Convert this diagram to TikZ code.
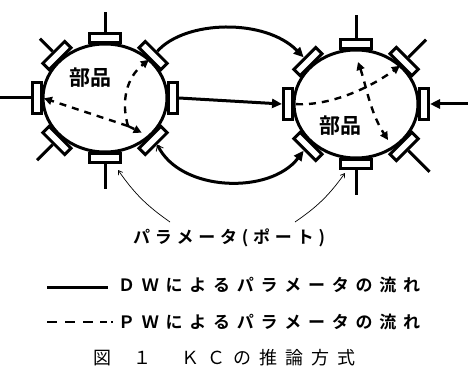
\documentclass[tikz,border=0pt]{standalone}
\usepackage{fontspec}
\newfontfamily\jp{Noto Sans CJK JP}
\IfFontExistsTF{Noto Sans CJK JP Bold}
  {\newfontfamily\jpb{Noto Sans CJK JP Bold}}
  {\newfontfamily\jpb{Noto Sans CJK JP}}
\usetikzlibrary{arrows.meta,calc}
\begin{document}
\begin{tikzpicture}[x=1pt,y=1pt,
  port/.style={draw, line width=3pt, minimum width=31pt, minimum height=9pt, inner sep=0pt, fill=white},
  dw/.style={line width=3pt},
  tri/.style={-{Triangle[length=10pt,width=9pt]}},
  pw/.style={line width=2.4pt, dash pattern=on 7pt off 6pt},
  pwa/.style={pw, -{Triangle[length=8pt,width=8pt]}},
  thinarrow/.style={line width=0.7pt, -{Straight Barb[length=4pt,width=5pt]}},
  lbl/.style={font=\jpb\fontsize{17pt}{17pt}\selectfont, inner sep=0pt},
]
\useasboundingbox (0,0) rectangle (468,370);

% ---------- centres ----------
\coordinate (LC) at (105,272);
\coordinate (RC) at (356,266);

% ---------- left part ----------
\draw[dw] (LC) ellipse [x radius=62pt, y radius=54pt];
\begin{scope}[shift={(LC)}]
  \foreach \a/\n in {90/L90,45/L45,0/L0,315/L315,270/L270,225/L225,180/L180,135/L135}
    \node[port, rotate=\a-90, anchor=south] (\n) at (\a:62 and 54) {};
\end{scope}
\draw[dw] (L90.north) -- ++(90:20);
\draw[dw] (L135.north) -- ++(135:18);
\draw[dw] (L180.north) -- ++(180:34);
\draw[dw] (L225.north) -- ++(225:22);
\draw[dw] (L270.north) -- ++(270:25);
\node[font=\jpb\fontsize{21pt}{21pt}\selectfont, inner sep=0pt] (LT) at (90,292) {部品};

% ---------- right part ----------
\draw[dw] (RC) ellipse [x radius=62pt, y radius=54pt];
\begin{scope}[shift={(RC)}]
  \foreach \a/\n in {90/R90,45/R45,0/R0,315/R315,270/R270,225/R225,180/R180,135/R135}
    \node[port, rotate=\a-90, anchor=south] (\n) at (\a:62 and 54) {};
\end{scope}
\draw[dw] (R90.north) -- ++(90:23);
\draw[dw] (R45.north) -- ++(45:25);
\draw[dw] (R315.north) -- ++(315:30);
\draw[dw] (R270.north) -- ++(270:25);
\node[font=\jpb\fontsize{21pt}{21pt}\selectfont, inner sep=0pt] (RT) at (340,244) {部品};

% ---------- DW connectors ----------
\draw[dw, tri] (L0.north) -- (R180.north);
\draw[dw, tri] (L45.north) .. controls (185,350) and (265,352) .. (R135.north);
\draw[dw, {Straight Barb[line width=0.8pt,length=5pt,width=8pt]}-{Triangle[length=10pt,width=9pt]}]
  (L315.north) .. controls (180,178) and (270,175) .. (R225.north);
\coordinate (ein) at (468,266);
\draw[dw, tri] (ein) -- (R0.north);

% ---------- PW flows (left) ----------
\coordinate (LB) at (128,244);
\draw[pwa, shorten >=1pt] (LB) -- (L180.south);
\draw[pwa] (LB) .. controls (121,268) and (126,292) .. (L45.south);
\draw[pwa, shorten >=8pt] (LB) -- (L315.south);

% ---------- PW flows (right) ----------
\coordinate (rtop) at (358,308);
\coordinate (rbot) at (388,230);
\draw[pwa, shorten <=2pt] (R180.south) .. controls (330,264) and (370,282) .. (R45.south);
\draw[pw, {Triangle[length=8pt,width=8pt]}-{Triangle[length=8pt,width=8pt]}]
  (rtop) .. controls (366,285) and (370,258) .. (rbot);

% ---------- port label ----------
\node[lbl] (lab) at (229,132) {\makebox[192pt][s]{パ\hfill ラ\hfill メ\hfill ー\hfill タ\hfill (\hfill ポ\hfill ー\hfill ト\hfill )}};
\coordinate (la1) at (170,148);
\coordinate (la2) at (295,148);
\draw[thinarrow] (la1) to[bend left=10] ($(L270.north west)+(-4,-6)$);
\draw[thinarrow] (la2) to[bend right=10] ($(R270.north east)+(6,-3)$);

% ---------- legend ----------
\coordinate (s1) at (47,83);
\coordinate (s2) at (108,83);
\draw[dw] (s1) -- (s2);
\node[lbl, anchor=west] (t1) at (118,84.5) {\makebox[302pt][s]{Ｄ\hfill Ｗ\hfill に\hfill よ\hfill る\hfill パ\hfill ラ\hfill メ\hfill ー\hfill タ\hfill の\hfill 流\hfill れ}};
\coordinate (d1) at (47,48);
\coordinate (d2) at (113,48);
\draw[line width=2.6pt, dash pattern=on 10pt off 8pt on 10pt off 8pt on 10pt off 7pt on 7pt off 4pt on 2pt] (d1) -- (d2);
\node[lbl, anchor=west] (t2) at (118,47.5) {\makebox[302pt][s]{Ｐ\hfill Ｗ\hfill に\hfill よ\hfill る\hfill パ\hfill ラ\hfill メ\hfill ー\hfill タ\hfill の\hfill 流\hfill れ}};

% ---------- caption ----------
\node[font=\jp\fontsize{18pt}{18pt}\selectfont, inner sep=0pt, anchor=west] (cap) at (93,12)
  {図\hspace{22pt}１\hspace{30pt}Ｋ\hspace{8pt}Ｃ\hspace{8pt}の\hspace{8pt}推\hspace{8pt}論\hspace{8pt}方\hspace{8pt}式};
\end{tikzpicture}
\end{document}
